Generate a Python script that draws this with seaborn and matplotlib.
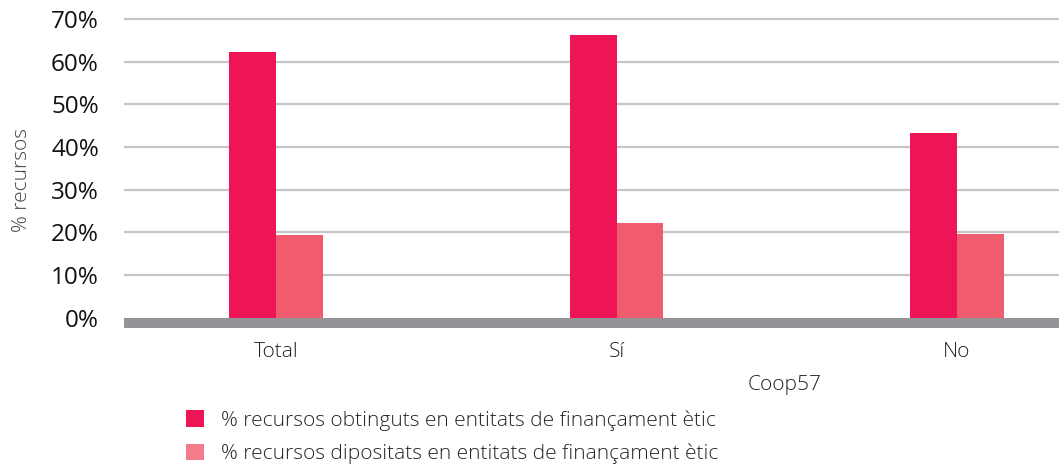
import pandas as pd
import matplotlib.pyplot as plt
import seaborn as sns
from matplotlib.patches import Patch

# Data
categories = ['Total', 'Sí', 'No']
obtinguts = [62.2, 66.2, 43.2]
dipositats = [19.5, 22.3, 19.7]
series_names = ['% recursos obtinguts en entitats de finançament ètic',
                '% recursos dipositats en entitats de finançament ètic']
y_ticks = [0, 10, 20, 30, 40, 50, 60, 70]

colors = ['#EE1556', '#F05B6E']
legend_colors = ['#EE1556', '#F47C8A']

df = pd.DataFrame({
    'categoria': categories * 2,
    'valor': obtinguts + dipositats,
    'serie': [series_names[0]] * 3 + [series_names[1]] * 3,
})

sns.set_style('white')
plt.rcParams['font.family'] = ['Open Sans', 'DejaVu Sans']

fig = plt.figure(figsize=(10.59, 4.68), dpi=100)
ax = fig.add_axes([124 / 1059, (468 - 328) / 468, (1059 - 124) / 1059, (328 - 17) / 468])

sns.barplot(data=df, x='categoria', y='valor', hue='serie', order=categories,
            hue_order=series_names, palette=colors, width=0.276, gap=0,
            saturation=1, ax=ax, legend=False, linewidth=0)

ax.set_xlim(-0.447, 2.30)
ax.set_ylim(-2.4, 70.5)
ax.set_yticks(y_ticks)
ax.set_yticklabels([f'{t}%' for t in y_ticks], fontsize=17.5, color='#111111')
for t in y_ticks[1:]:
    ax.axhline(t, color='#C6C6C6', lw=1.6, zorder=0)
ax.axhspan(-2.4, 0, color='#949398', lw=0, zorder=3)

for s in ax.spines.values():
    s.set_visible(False)
ax.tick_params(axis='both', length=0)
ax.tick_params(axis='y', pad=18)
ax.tick_params(axis='x', pad=10)
for lbl in ax.get_xticklabels():
    lbl.set_fontsize(15)
    lbl.set_fontweight('light')
    lbl.set_color('#222222')

ax.set_ylabel('% recursos', fontsize=15, color='#444444', fontweight='light')
ax.yaxis.set_label_coords(-0.098, 0.475)
ax.set_xlabel('Coop57', fontsize=15, color='#222222', fontweight='light')
ax.xaxis.set_label_coords((785 - 124) / 935, -0.15)

handles = [Patch(facecolor=c, edgecolor='none') for c in legend_colors]
fig.legend(handles, series_names, loc='upper left', bbox_to_anchor=(186 / 1059, 1 - 410 / 468),
           frameon=False, borderpad=0, borderaxespad=0, handlelength=0.85, handleheight=0.85,
           handletextpad=0.85, labelspacing=0.62, prop={'weight': 'light', 'size': 15})

fig.savefig('out.png', dpi=100)
